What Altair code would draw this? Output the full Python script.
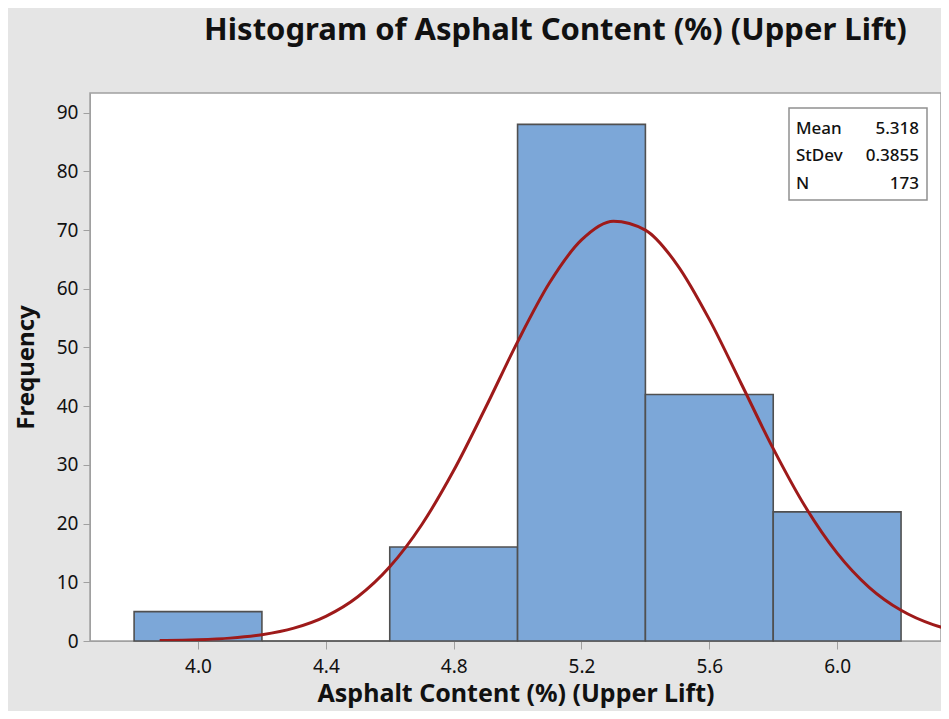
import altair as alt
import pandas as pd

# Histogram bins (Asphalt Content %, Upper Lift)
bin_start = [3.8, 4.2, 4.6, 5.0, 5.4, 5.8]
bin_end = [4.2, 4.6, 5.0, 5.4, 5.8, 6.2]
counts = [5, 0, 16, 88, 42, 22]

# Fitted normal curve
curve_x = [3.88, 3.9, 4.0, 4.1, 4.2, 4.3, 4.4, 4.5, 4.6, 4.7, 4.8, 4.9, 5.0, 5.1,
           5.2, 5.3, 5.4, 5.5, 5.6, 5.7, 5.8, 5.9, 6.0, 6.1, 6.2, 6.3, 6.34]
curve_y = [0.07, 0.08, 0.21, 0.49, 1.07, 2.19, 4.2, 7.54, 12.64, 19.81, 29.03, 39.77,
           50.96, 61.02, 68.32, 71.52, 70.0, 64.05, 54.79, 43.82, 32.77, 22.9, 14.97,
           9.15, 5.23, 2.79, 2.13]

stat_labels = ["Mean", "StDev", "N"]
stat_values = ["5.318", "0.3855", "173"]

x_ticks = [4.0, 4.4, 4.8, 5.2, 5.6, 6.0]
y_ticks = [0, 10, 20, 30, 40, 50, 60, 70, 80, 90]

FONT = "Noto Sans"
XDOM = [3.662, 6.325]
YDOM = [0, 93.35]

bars_df = pd.DataFrame({"x0": bin_start, "x1": bin_end, "count": counts})
curve_df = pd.DataFrame({"x": curve_x, "y": curve_y})

xscale = alt.Scale(domain=XDOM, nice=False, zero=False)
yscale = alt.Scale(domain=YDOM, nice=False)

bars = alt.Chart(bars_df).mark_rect(
    fill="#7ca7d8", stroke="#505050", strokeWidth=1.6
).encode(
    x=alt.X("x0:Q", scale=xscale,
            axis=alt.Axis(values=x_ticks, format=".1f", title="Asphalt Content (%) (Upper Lift)",
                          grid=False, domainColor="#a0a0a0", tickColor="#a0a0a0",
                          tickSize=8, labelPadding=8, labelFontSize=19, labelColor="#111111",
                          labelFont=FONT, titleFont=FONT, titleFontSize=25, titleFontWeight="bold",
                          titleColor="#111111", titlePadding=5)),
    x2="x1:Q",
    y=alt.Y("count:Q", scale=yscale,
            axis=alt.Axis(values=y_ticks, title="Frequency", grid=False,
                          domainColor="#a0a0a0", tickColor="#a0a0a0", tickSize=7,
                          labelPadding=5, labelFontSize=19, labelColor="#111111",
                          labelFont=FONT, titleFont=FONT, titleFontSize=24,
                          titleFontWeight="bold", titleColor="#111111", titlePadding=18)),
    y2=alt.datum(0),
)

curve = alt.Chart(curve_df).mark_line(
    color="#9e1a1a", strokeWidth=3, interpolate="monotone", clip=True
).encode(
    x=alt.X("x:Q", scale=xscale),
    y=alt.Y("y:Q", scale=yscale),
)

box = alt.Chart(pd.DataFrame({"a": [1]})).mark_rect(
    fill="white", stroke="#909090", strokeWidth=1.5
).encode(
    x=alt.value(699), x2=alt.value(837), y=alt.value(15), y2=alt.value(107)
)

row_y = [41, 68, 96]
stat_layers = []
for lab, val, yy in zip(stat_labels, stat_values, row_y):
    d = pd.DataFrame({"label": [lab], "value": [val]})
    stat_layers.append(
        alt.Chart(d).mark_text(align="left", baseline="alphabetic", font=FONT,
                               fontSize=17, fontWeight=500, color="#111111")
        .encode(x=alt.value(706), y=alt.value(yy), text="label:N")
    )
    stat_layers.append(
        alt.Chart(d).mark_text(align="right", baseline="alphabetic", font=FONT,
                               fontSize=17, fontWeight=500, color="#111111")
        .encode(x=alt.value(829), y=alt.value(yy), text="value:N")
    )

chart = alt.layer(bars, curve, box, *stat_layers).properties(
    width=851,
    height=548,
    background="#e5e5e5",
    padding={"left": 82, "top": 85, "right": 0, "bottom": 70},
    autosize=alt.AutoSizeParams(type="none"),
    title=alt.TitleParams(
        "Histogram of Asphalt Content (%) (Upper Lift)",
        font=FONT, fontSize=31, fontWeight="bold", color="#111111",
        anchor="middle", dx=40, offset=15, baseline="bottom",
    ),
).configure_view(
    fill="white", stroke="#a0a0a0", strokeWidth=1.5
)

chart.save("out.html", embed_options={"renderer": "svg", "actions": False})
